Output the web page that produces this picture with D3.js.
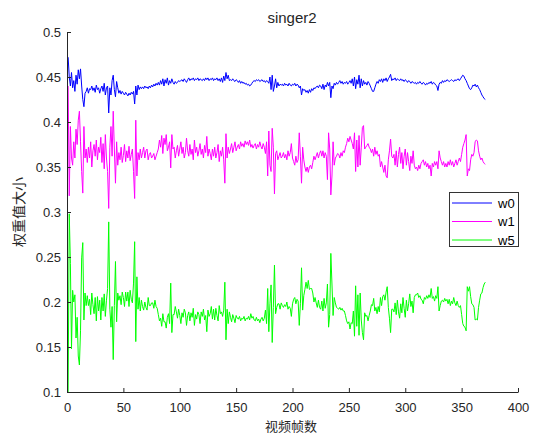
<!DOCTYPE html>
<html>
<head>
<meta charset="utf-8">
<script src="https://cdn.jsdelivr.net/npm/d3@7"></script>
<style>
  html, body { margin: 0; padding: 0; background: #fff; }
  svg { display: block; }
</style>
</head>
<body>
<svg id="chart" width="539" height="435"></svg>
<script>
const title = "singer2";
const xLabel = "视频帧数";
const yLabel = "权重值大小";
const seriesNames = ["w0", "w1", "w5"];
const seriesColors = ["#0000ff", "#ff00ff", "#00ff00"];
const xTicks = [0, 50, 100, 150, 200, 250, 300, 350, 400];
const yTicks = [0.1, 0.15, 0.2, 0.25, 0.3, 0.35, 0.4, 0.45, 0.5];

const w0 = [
0.472,0.450,0.440,0.455,0.438,0.446,0.434,0.452,0.442,0.458,0.448,0.459,0.440,0.425,0.417,0.432,
0.434,0.438,0.432,0.437,0.436,0.440,0.435,0.438,0.433,0.441,0.436,0.438,0.432,0.437,0.440,0.434,0.443,0.430,0.438,
0.440,0.410,0.438,0.430,0.446,0.452,0.436,0.428,0.445,
0.438,0.432,0.435,0.431,0.434,0.432,0.430,0.433,0.431,0.429,0.432,0.430,0.433,
0.431,0.434,0.420,0.440,0.430,0.441,0.436,0.439,0.437,
0.439,0.437,0.440,0.438,0.439,0.437,0.440,0.438,0.441,0.439,0.442,0.440,0.443,0.441,
0.444,0.441,0.446,0.442,0.448,0.440,0.447,0.443,0.449,
0.441,0.446,0.443,0.448,0.444,0.442,
0.445,0.443,0.444,0.446,0.445,0.446,0.447,0.445,0.448,0.446,0.444,0.447,0.449,0.446,0.448,0.447,0.449,0.446,0.448,0.447,0.449,0.446,0.448,0.447,0.446,0.448,0.446,0.449,0.447,0.449,0.446,
0.448,0.447,0.449,0.446,0.448,0.447,0.449,0.446,0.448,0.445,0.449,0.444,0.451,
0.446,0.455,0.448,0.452,0.446,
0.447,0.446,0.448,0.446,0.445,0.447,0.446,0.444,0.446,0.443,0.445,0.443,0.444,0.442,0.443,0.441,0.442,0.440,0.441,0.443,0.445,0.446,0.445,0.447,0.446,0.447,0.445,0.446,0.447,0.445,0.446,
0.444,0.446,0.445,0.443,0.450,0.436,0.452,0.434,0.440,0.448,0.438,0.444,0.440,0.442,0.441,
0.442,0.440,0.443,0.441,0.442,0.440,0.443,0.441,0.440,0.442,0.441,0.443,0.440,0.442,0.441,
0.438,
0.440,0.430,0.437,0.435,0.436,0.433,0.435,0.432,0.436,0.433,0.437,0.435,0.438,0.437,
0.439,0.440,0.438,0.441,0.440,0.437,0.442,0.436,0.441,0.439,0.444,0.440,0.444,0.427,0.440,0.437,0.443,0.441,0.444,0.442,
0.444,0.446,0.443,0.445,0.442,0.444,0.443,0.445,0.442,0.444,0.446,0.443,0.448,0.440,0.450,0.437,0.447,0.442,0.452,0.438,0.448,0.440,0.446,0.442,0.444,0.441,0.445,0.443,
0.440,0.437,0.434,0.434,0.438,0.442,0.445,0.443,0.447,0.445,0.448,0.444,0.448,0.446,0.449,0.445,0.448,0.450,0.453,0.446,0.448,0.447,
0.449,0.446,0.448,0.447,0.446,0.448,0.446,0.447,0.445,0.447,0.446,0.444,0.446,0.445,0.443,0.445,0.444,
0.443,0.444,0.442,0.444,0.443,0.445,0.443,0.442,0.444,0.443,0.441,0.443,0.442,0.444,0.443,0.445,0.442,0.444,0.443,0.441,0.440,0.435,0.442,
0.444,0.443,0.446,0.444,0.446,0.445,0.447,0.446,0.445,0.446,0.447,0.446,0.445,0.447,0.446,0.447,0.448,0.446,0.448,0.450,0.452,0.451,0.448,0.446,0.443,0.440,0.437,0.436,0.438,0.441,0.440,0.442,0.439,0.441,0.438,0.436,0.433,0.430,0.428,0.426,0.425
];

const w1 = [
0.440,0.318,0.395,0.360,0.352,0.378,0.360,0.392,0.375,0.402,0.412,0.378,0.345,0.321,0.395,0.360,
0.370,0.355,0.372,0.360,0.378,0.350,0.368,0.375,0.362,0.380,0.358,0.372,0.366,0.383,0.355,0.376,0.348,0.386,0.360,
0.345,0.304,0.372,0.395,0.362,0.412,0.370,0.332,0.378,
0.352,0.366,0.358,0.372,0.355,0.363,0.375,0.356,0.368,0.360,0.373,0.357,0.364,
0.370,0.345,0.315,0.402,0.340,0.366,0.358,0.370,0.360,
0.366,0.372,0.360,0.368,0.370,0.358,0.364,0.366,0.360,0.362,0.365,0.358,0.362,0.366,
0.370,0.380,0.372,0.385,0.365,0.382,0.375,0.386,0.368,
0.372,0.378,0.349,0.386,0.370,0.372,
0.360,0.368,0.374,0.362,0.370,0.378,0.365,0.372,0.360,0.366,0.382,0.368,0.362,0.375,0.364,0.370,0.358,0.380,0.366,0.372,0.362,0.368,0.376,0.364,0.370,0.360,0.374,0.366,0.384,0.362,0.370,
0.365,0.358,0.370,0.362,0.372,0.360,0.366,0.375,0.356,0.368,0.362,0.372,0.358,
0.332,0.387,0.360,0.372,0.365,
0.370,0.376,0.366,0.372,0.378,0.368,0.372,0.375,0.370,0.378,0.373,0.376,0.372,0.379,0.375,0.378,0.374,0.380,0.372,0.375,0.371,0.374,0.376,0.370,0.375,0.372,0.378,0.373,0.370,0.376,0.372,
0.365,0.378,0.340,0.390,0.352,0.345,0.393,0.372,0.320,0.365,0.368,0.358,0.362,0.366,0.360,
0.362,0.366,0.360,0.364,0.358,0.368,0.362,0.366,0.376,0.360,0.356,0.352,0.362,0.355,0.358,
0.388,
0.362,0.332,0.372,0.358,0.350,0.345,0.350,0.344,0.350,0.352,0.348,0.355,0.362,0.358,
0.362,0.366,0.360,0.365,0.368,0.362,0.368,0.360,0.366,0.362,0.336,0.388,0.370,0.319,0.340,0.378,0.352,0.360,0.362,0.365,
0.364,0.360,0.366,0.362,0.368,0.366,0.372,0.376,0.382,0.378,0.384,0.380,0.376,0.370,0.388,0.345,0.380,0.350,0.385,0.352,0.372,0.394,0.396,0.370,0.372,0.374,0.376,0.372,
0.370,0.366,0.370,0.362,0.372,0.364,0.368,0.362,0.364,0.350,0.356,0.350,0.344,0.352,0.340,0.338,0.358,0.368,0.381,0.362,0.360,0.364,
0.352,0.368,0.350,0.364,0.372,0.354,0.366,0.348,0.362,0.370,0.352,0.366,0.356,0.346,0.362,0.354,0.368,
0.352,0.348,0.350,0.346,0.352,0.348,0.354,0.356,0.358,0.352,0.356,0.350,0.354,0.348,0.352,0.340,0.354,0.350,0.356,0.352,0.356,0.348,0.368,
0.360,0.356,0.352,0.356,0.350,0.354,0.350,0.356,0.352,0.358,0.352,0.356,0.350,0.354,0.358,0.352,0.356,0.360,0.356,0.364,0.372,0.376,0.380,0.386,0.340,0.348,0.346,0.358,0.364,0.362,0.366,0.378,0.380,0.379,0.368,0.362,0.358,0.360,0.356,0.354,0.353
];

const w5 = [
0.100,0.298,0.243,0.148,0.213,0.200,0.208,0.160,0.183,0.140,0.130,0.168,0.249,0.266,0.180,0.210,
0.196,0.207,0.196,0.203,0.186,0.210,0.197,0.187,0.205,0.179,0.206,0.190,0.202,0.180,0.205,0.190,0.209,0.184,0.202,
0.215,0.289,0.192,0.172,0.195,0.136,0.196,0.245,0.178,
0.210,0.202,0.207,0.197,0.211,0.205,0.195,0.211,0.201,0.211,0.195,0.213,0.203,
0.199,0.221,0.267,0.156,0.228,0.192,0.205,0.190,0.202,
0.195,0.191,0.200,0.194,0.191,0.205,0.196,0.196,0.199,0.199,0.193,0.202,0.195,0.193,
0.186,0.179,0.182,0.173,0.187,0.178,0.178,0.171,0.183,
0.187,0.176,0.221,0.166,0.186,0.186,
0.195,0.189,0.182,0.192,0.185,0.176,0.188,0.183,0.192,0.188,0.174,0.185,0.189,0.179,0.188,0.183,0.193,0.174,0.186,0.181,0.189,0.186,0.176,0.189,0.184,0.192,0.180,0.185,0.167,0.191,0.184,
0.187,0.195,0.181,0.192,0.180,0.193,0.185,0.179,0.196,0.187,0.189,0.184,0.191,
0.222,0.158,0.192,0.176,0.189,
0.183,0.178,0.186,0.182,0.177,0.185,0.182,0.181,0.184,0.179,0.182,0.181,0.184,0.179,0.182,0.181,0.184,0.180,0.187,0.182,0.184,0.180,0.179,0.183,0.179,0.181,0.177,0.181,0.183,0.179,0.182,
0.191,0.176,0.215,0.167,0.198,0.219,0.155,0.194,0.241,0.187,0.194,0.198,0.198,0.192,0.199,
0.196,0.194,0.197,0.195,0.200,0.192,0.195,0.193,0.184,0.198,0.203,0.205,0.198,0.203,0.201,
0.174,
0.198,0.238,0.191,0.207,0.214,0.222,0.215,0.224,0.214,0.215,0.215,0.210,0.200,0.205,
0.199,0.194,0.202,0.194,0.192,0.201,0.190,0.204,0.193,0.199,0.220,0.172,0.186,0.254,0.220,0.185,0.205,0.199,0.194,0.193,
0.192,0.194,0.191,0.193,0.190,0.190,0.185,0.179,0.176,0.178,0.170,0.177,0.176,0.190,0.162,0.218,0.173,0.208,0.163,0.210,0.180,0.166,0.158,0.188,0.184,0.185,0.179,0.185,
0.190,0.197,0.196,0.204,0.190,0.194,0.187,0.195,0.189,0.205,0.196,0.206,0.208,0.202,0.211,0.217,0.194,0.182,0.166,0.192,0.192,0.189,
0.199,0.186,0.202,0.189,0.182,0.198,0.188,0.205,0.193,0.183,0.202,0.190,0.198,0.209,0.195,0.201,0.188,
0.205,0.208,0.208,0.210,0.205,0.207,0.203,0.202,0.198,0.205,0.203,0.207,0.204,0.208,0.205,0.215,0.204,0.206,0.201,0.207,0.204,0.217,0.190,
0.196,0.201,0.202,0.200,0.204,0.201,0.203,0.198,0.203,0.196,0.201,0.198,0.205,0.199,0.196,0.201,0.196,0.194,0.196,0.186,0.176,0.173,0.172,0.168,0.217,0.212,0.217,0.206,0.198,0.197,0.194,0.180,0.181,0.180,0.194,0.202,0.209,0.210,0.216,0.220,0.222
];

const seriesValues = [w0, w1, w5];

const svg = d3.select("#chart");
const axisColor = "#262626";
const fontLatin = "'Liberation Sans', Arial, Helvetica, sans-serif";
const fontCJK = "'Noto Sans CJK SC', 'Noto Sans CJK JP', sans-serif";

const x = d3.scaleLinear().domain([0, 400]).range([67, 518]);
const y = d3.scaleLinear().domain([0.1, 0.5]).range([392, 32]);

const line = d3.line()
  .x((d, i) => x(i + 1))
  .y(d => y(d));

const plot = svg.append("g");
seriesValues.forEach((vals, k) => {
  plot.append("path")
    .datum(vals)
    .attr("fill", "none")
    .attr("stroke", seriesColors[k])
    .attr("stroke-width", 1)
    .attr("stroke-linejoin", "round")
    .attr("d", line);
});

const xAxis = d3.axisBottom(x).tickValues(xTicks).tickFormat(d3.format("d"))
  .tickSizeInner(-4).tickSizeOuter(0).tickPadding(11);
const yAxis = d3.axisLeft(y).tickValues(yTicks).tickFormat(d => String(+d.toFixed(2)))
  .tickSizeInner(-4).tickSizeOuter(0).tickPadding(6);

const gx = svg.append("g").attr("transform", "translate(0,392)").call(xAxis);
const gy = svg.append("g").attr("transform", "translate(67,0)").call(yAxis);
[gx, gy].forEach(g => {
  g.select(".domain").attr("stroke", axisColor).attr("stroke-width", 1);
  g.selectAll(".tick line").attr("stroke", axisColor).attr("stroke-width", 1);
  g.selectAll(".tick text").attr("fill", axisColor)
    .style("font-family", fontLatin).style("font-size", "13px");
});

svg.append("text")
  .attr("x", 292).attr("y", 23)
  .attr("text-anchor", "middle")
  .attr("fill", axisColor)
  .style("font-family", fontLatin).style("font-size", "15px")
  .text(title);

svg.append("text")
  .attr("x", 291).attr("y", 425)
  .attr("text-anchor", "middle")
  .attr("dominant-baseline", "central")
  .attr("fill", axisColor)
  .style("font-family", fontCJK).style("font-size", "13px")
  .text(xLabel);

svg.append("text")
  .attr("transform", "translate(18,212) rotate(-90)")
  .attr("text-anchor", "middle")
  .attr("dominant-baseline", "central")
  .attr("fill", axisColor)
  .style("font-family", fontCJK).style("font-size", "14px")
  .text(yLabel);

const lg = svg.append("g");
lg.append("rect")
  .attr("x", 449.5).attr("y", 192.5).attr("width", 69).attr("height", 54)
  .attr("fill", "#fff").attr("stroke", "#333").attr("stroke-width", 1);
const rowY = [203, 221.5, 240];
seriesNames.forEach((name, k) => {
  lg.append("line")
    .attr("x1", 452).attr("x2", 492)
    .attr("y1", rowY[k]).attr("y2", rowY[k])
    .attr("stroke", seriesColors[k]).attr("stroke-width", 1);
  lg.append("text")
    .attr("x", 498).attr("y", rowY[k])
    .attr("dominant-baseline", "central")
    .attr("fill", "#000")
    .style("font-family", fontLatin).style("font-size", "13px")
    .text(name);
});
</script>
</body>
</html>
